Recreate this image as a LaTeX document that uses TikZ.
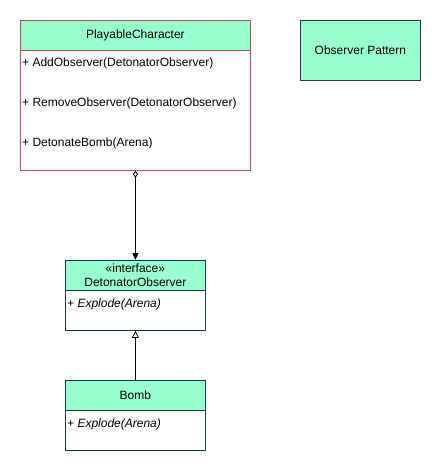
\documentclass[tikz,border=0pt]{standalone}
\usepackage{fontspec}
\setmainfont{Liberation Sans}
\usepackage{xcolor}
\usetikzlibrary{arrows.meta, positioning}

\definecolor{mint}{RGB}{153,255,204}
\definecolor{redline}{RGB}{184,84,80}
\definecolor{blueline}{RGB}{16,57,94}
\definecolor{greyline}{RGB}{54,57,61}

\begin{document}
\begin{tikzpicture}[
    x=1pt, y=-1pt,
    font=\fontsize{12}{14}\selectfont,
    head/.style={rectangle, fill=mint, line width=0.8pt, anchor=north west, inner sep=0pt, align=center},
    body/.style={rectangle, fill=white, line width=0.8pt, anchor=north west, inner sep=0pt},
    method/.style={anchor=west, inner sep=0pt},
    assoc/.style={{Diamond[open,length=7pt,width=5pt]}-{Triangle[length=7pt,width=6pt]}, line width=0.8pt},
    realize/.style={-{Triangle[open,length=7pt,width=7pt]}, line width=0.8pt},
]
\useasboundingbox (0,0) rectangle (441,471);

% PlayableCharacter
\node[head, draw=redline, minimum width=230pt, minimum height=30pt] (pc) at (20,20) {PlayableCharacter};
\node[body, draw=redline, minimum width=230pt, minimum height=120pt] (pcbody) at (20,50) {};
\node[method] (add) at (22,63.5) {+ AddObserver(DetonatorObserver)};
\node[method] (remove) at (22,103.5) {+ RemoveObserver(DetonatorObserver)};
\node[method] (detonate) at (22,143.5) {+ DetonateBomb(Arena)};

% note
\node[head, draw=greyline, minimum width=120pt, minimum height=60pt] (note) at (300,20) {Observer Pattern};

% DetonatorObserver
\node[head, draw=blueline, minimum width=140pt, minimum height=30pt] (observer) at (65,260) {«interface»\\DetonatorObserver};
\node[body, draw=blueline, minimum width=140pt, minimum height=40pt] (obsbody) at (65,290) {};
\node[method, font=\fontsize{12}{14}\selectfont\itshape] (explode1) at (67,304) {+ Explode(Arena)};

% Bomb
\node[head, draw=blueline, minimum width=140pt, minimum height=30pt] (bomb) at (65,380) {Bomb};
\node[body, draw=blueline, minimum width=140pt, minimum height=40pt] (bombbody) at (65,410) {};
\node[method, font=\fontsize{12}{14}\selectfont\itshape] (explode2) at (67,424) {+ Explode(Arena)};

% Arrows
\draw[assoc] (pcbody.south) -- (observer.north);
\draw[realize] (bomb.north) -- (obsbody.south);

\end{tikzpicture}
\end{document}
